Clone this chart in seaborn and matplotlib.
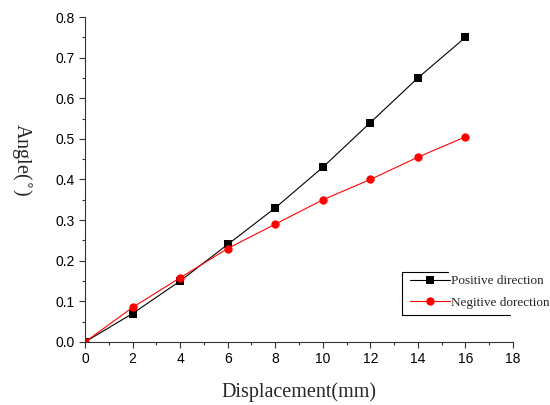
import matplotlib
matplotlib.use("Agg")
import matplotlib.pyplot as plt
import seaborn as sns
import pandas as pd
from matplotlib.lines import Line2D
from matplotlib.ticker import MultipleLocator

displacement = [0, 2, 4, 6, 8, 10, 12, 14, 16]
positive = [0.0, 0.07, 0.15, 0.24, 0.33, 0.43, 0.54, 0.65, 0.75]
negative = [0.0, 0.085, 0.158, 0.23, 0.29, 0.35, 0.40, 0.455, 0.505]
series_names = ["Positive direction", "Negitive dorection"]

sns.set_style("ticks")
plt.rcParams['font.family'] = ['Liberation Sans', 'DejaVu Sans']

df = pd.DataFrame({
    "x": displacement * 2,
    "y": positive + negative,
    "s": [series_names[0]] * len(displacement) + [series_names[1]] * len(displacement),
})

fig = plt.figure(figsize=(5.5, 4.05), dpi=100)
ax = fig.add_axes([0.1545, 0.1556, 0.7782, 0.8024])

sns.lineplot(data=df, x="x", y="y", hue="s", style="s",
             palette={series_names[0]: "black", series_names[1]: "red"},
             markers={series_names[0]: "s", series_names[1]: "o"},
             dashes=False, markersize=6, linewidth=0.8,
             markeredgewidth=0, ax=ax, legend=False)

ax.set_xlim(0, 18)
ax.set_ylim(0, 0.8)
ax.xaxis.set_major_locator(MultipleLocator(2))
ax.xaxis.set_minor_locator(MultipleLocator(1))
ax.yaxis.set_major_locator(MultipleLocator(0.1))
ax.yaxis.set_minor_locator(MultipleLocator(0.05))
ax.xaxis.set_major_formatter(matplotlib.ticker.FormatStrFormatter('%d'))
ax.yaxis.set_major_formatter(matplotlib.ticker.FormatStrFormatter('%.1f'))
ax.tick_params(axis='both', which='major', length=4, width=0.8, labelsize=10, direction='out', colors='#333333', labelcolor='black')
ax.tick_params(axis='both', which='minor', length=2.5, width=0.8, direction='out', colors='#333333')
for side in ['top', 'right']:
    ax.spines[side].set_visible(False)
for side in ['left', 'bottom']:
    ax.spines[side].set_linewidth(0.8)
    ax.spines[side].set_color('#333333')

ax.set_xlabel("Displacement(mm)", family=['Liberation Serif'], fontsize=14.5, va='top')
ax.set_ylabel("Angle($^{\\circ}$)", family=['Liberation Serif'], fontsize=14.5, rotation=270, va='center', ha='center')
ax.xaxis.set_label_coords(0.5, -0.125)
ax.yaxis.set_label_coords(-0.148, 0.56)

handles = [Line2D([], [], color="black", marker="s", markersize=6, markeredgewidth=0, linewidth=0.8),
           Line2D([], [], color="red", marker="o", markersize=6, markeredgewidth=0, linewidth=0.8)]
leg = ax.legend(handles, series_names, loc='upper left', bbox_to_anchor=(0.748, 0.222),
                frameon=False, prop={'family': 'Liberation Serif', 'size': 9.5},
                handlelength=3.0, handletextpad=0.05, labelspacing=0.7, borderaxespad=0)

# partial legend frame
fig.add_artist(Line2D([402/550, 448/550], [1-272/405, 1-272/405], color='black', lw=0.8))
fig.add_artist(Line2D([402/550, 402/550], [1-272/405, 1-315/405], color='black', lw=0.8))
fig.add_artist(Line2D([402/550, 510/550], [1-315/405, 1-315/405], color='black', lw=0.8))

fig.savefig("out.png", dpi=100)
